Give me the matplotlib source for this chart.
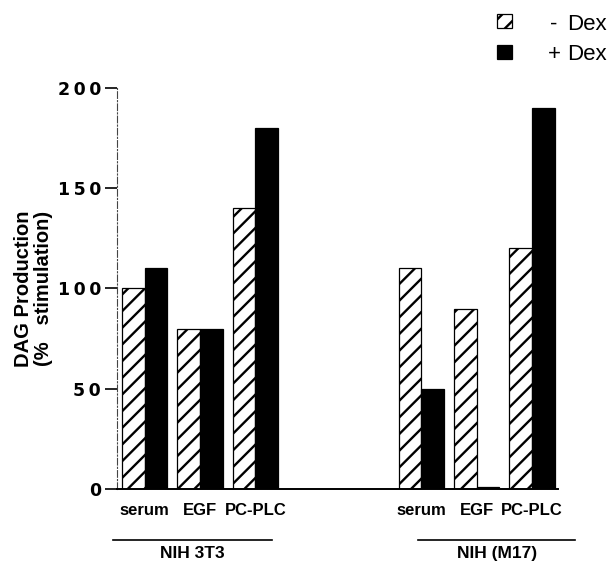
import numpy as np
import matplotlib.pyplot as plt
from matplotlib.patches import Rectangle

plt.rcParams['font.family'] = ['Liberation Sans', 'DejaVu Sans']
plt.rcParams['hatch.linewidth'] = 1.7

# data
treatments = ['serum', 'EGF', 'PC-PLC']
cell_lines = ['NIH 3T3', 'NIH (M17)']
minus_dex = [100, 80, 140, 110, 90, 120]
plus_dex = [110, 80, 180, 50, 1, 190]
y_ticks = [0, 50, 100, 150, 200]

positions = np.array([0, 1, 2, 5, 6, 7])
width = 0.41

W, H = 611, 564
fig = plt.figure(figsize=(W / 100, H / 100), dpi=100)
ax = fig.add_axes([0.1915, 0.133, 0.7218, 0.711])

ax.bar(positions - width / 2, minus_dex, width, color='white', edgecolor='black',
       hatch='//', linewidth=0.9)
ax.bar(positions + width / 2, plus_dex, width, color='black', edgecolor='black',
       linewidth=0.9)

ax.set_xlim(-0.5, 7.47)
ax.set_ylim(0, 200)
ax.set_yticks(y_ticks)
# thin spaces between digits, the original numbers are set wide
ax.set_yticklabels(['\u2009'.join(str(t)) for t in y_ticks], fontsize=12.5,
                   fontweight='bold', family='DejaVu Sans')
ax.tick_params(axis='y', direction='out', length=9, width=1.2, pad=2.5)

ax.set_xticks(positions)
ax.set_xticklabels(treatments * 2, fontsize=12, fontweight='bold')
ax.tick_params(axis='x', length=0, pad=10)

for side in ['top', 'right']:
    ax.spines[side].set_visible(False)
ax.spines['left'].set_linestyle((0, (6, 2, 1, 2)))
ax.spines['left'].set_linewidth(0.8)
ax.spines['left'].set_color('#444444')
ax.spines['bottom'].set_linewidth(1.4)

ax.set_ylabel('DAG Production\n(%   stimulation)', fontsize=14.5, fontweight='bold',
              linespacing=1.05)
ax.yaxis.set_label_coords(-0.145, 0.5)

# group underlines and names
spans = [(-0.57, 2.30), (4.94, 7.78)]
for name, (x0, x1) in zip(cell_lines, spans):
    ax.plot([x0, x1], [-25.5, -25.5], color='black', lw=1.2, clip_on=False)
    ax.text((x0 + x1) / 2, -34.6, name, ha='center', va='baseline', fontsize=12.5,
            fontweight='bold')

# legend, drawn by hand to keep the loose spacing of the original
def px(x, y):
    return x / W, 1 - y / H

for (y, hatch, face), sign in zip([(28, '//', 'white'), (59, None, 'black')], ['-', '+']):
    fig.add_artist(Rectangle(px(497, y), 15 / W, 14 / H, transform=fig.transFigure,
                             facecolor=face, edgecolor='black', hatch=hatch, lw=0.9))
    fig.text(*px(554, y - 4), sign, fontsize=16, ha='center', va='center')
    fig.text(*px(567, y - 4), 'Dex', fontsize=16, ha='left', va='center')

fig.savefig('out.png', dpi=100)
